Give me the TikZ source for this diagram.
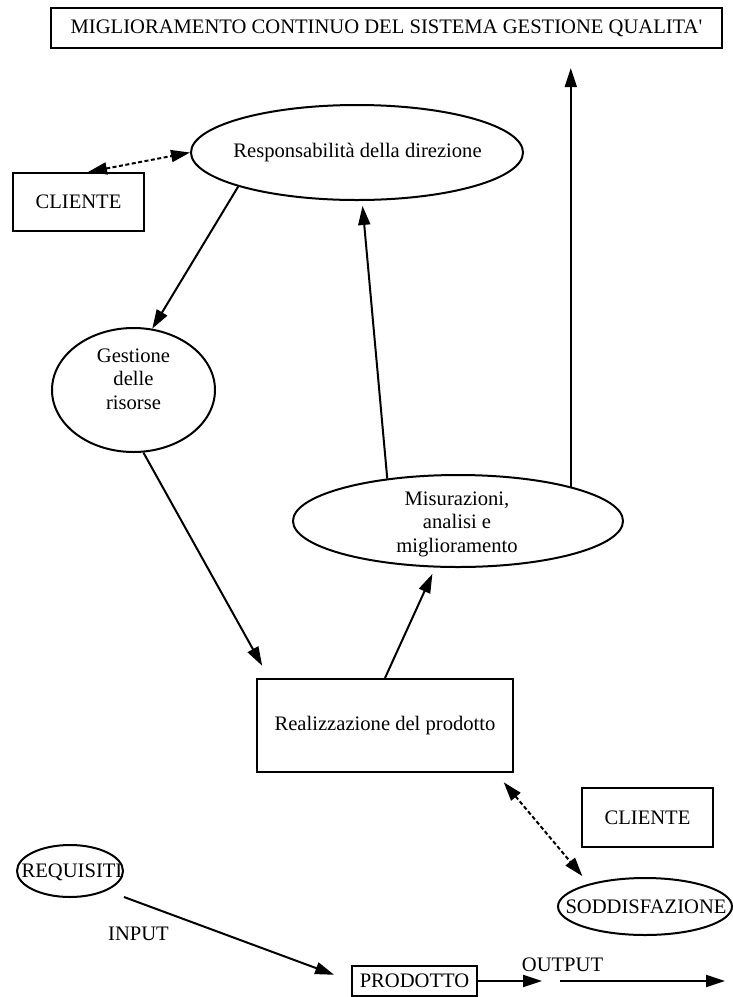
\documentclass[tikz,border=0pt]{standalone}
\usepackage{fontspec}
\setmainfont{Liberation Serif}[Ligatures=ResetAll]
\usetikzlibrary{arrows.meta,shapes.geometric,calc}
\begin{document}
\begin{tikzpicture}[x=1pt,y=-1pt,line width=2pt,
        every node/.style={font=\fontsize{20.6}{23.5}\selectfont,inner sep=0pt,align=center},
        boxnode/.style={draw,rectangle},
        ovalnode/.style={draw,ellipse},
        arr/.style={-{Triangle[length=19pt,width=12pt]}},
        dasharr/.style={{Triangle[length=19pt,width=12pt]}-{Triangle[length=19pt,width=12pt]},dash pattern=on 4pt off 2.5pt}]
        \fill[white] (0,0) rectangle (732,997);
        \useasboundingbox (0,0) rectangle (732,997);
        \node[boxnode,minimum width=671pt,minimum height=40pt] (top) at (386.5,28) {MIGLIORAMENTO CONTINUO DEL SISTEMA GESTIONE QUALITA\textquotesingle};
        \node[ovalnode,minimum width=332pt,minimum height=95pt] (resp) at (357,152.5) {};
        \node (respText) at (357.5,152.5) {Responsabilità della direzione};
        \node[boxnode,minimum width=131pt,minimum height=58pt] (cliA) at (78.5,202) {CLIENTE};
        \node[ovalnode,minimum width=163pt,minimum height=124pt] (ges) at (133.5,390) {};
        \node (gesText) at (133.5,379) {Gestione\\delle\\risorse};
        \node[ovalnode,minimum width=330pt,minimum height=92pt] (mis) at (458,521) {};
        \node (misText) at (457,524) {Misurazioni,\\analisi e\\miglioramento};
        \node[boxnode,minimum width=256pt,minimum height=93pt] (real) at (385,725.5) {Realizzazione del prodotto};
        \node[boxnode,minimum width=131pt,minimum height=59pt] (cliB) at (647.5,817.5) {CLIENTE};
        \node[ovalnode,minimum width=106pt,minimum height=52pt] (req) at (70,871) {};
        \node (reqText) at (72,872) {REQUISITI};
        \node[ovalnode,minimum width=174pt,minimum height=57pt] (sod) at (645,906.5) {};
        \node (sodText) at (646,907) {SODDISFAZIONE};
        \node[boxnode,minimum width=125pt,minimum height=30pt] (prod) at (414.5,981) {PRODOTTO};
        \node (input) at (138.5,933.5) {INPUT};
        \node (output) at (562.5,964.5) {OUTPUT};
        \coordinate (outA) at (542,981);
        \coordinate (outB) at (560,981);
        \coordinate (outC) at (725,981);
        \draw[dasharr] ($(cliA.north)+(9.5,0)$) -- (resp.west);
        \draw[arr] (resp.196.7) -- (ges.73.6);
        \draw[arr,shorten >=14pt] (ges.279.6) -- ($(real.north west)+(13,0)$);
        \draw[arr,shorten >=7pt] (real.north) -- (mis.244.2);
        \draw[arr,shorten >=5pt] (mis.149.7) -- (resp.276);
        \draw[arr,shorten >=19pt] (mis.17.7) -- (mis.17.7 |- top.south);
        \draw[dasharr,shorten <=12pt,shorten >=10pt] ($(real.south east)+(-18,0)$) -- (sod.158.9);
        \draw[arr,shorten >=18pt] ($(req.east)+(0,26)$) -- (prod.west);
        \draw[arr] (prod.east) -- (outA);
        \draw[arr] (outB) -- (outC);
\end{tikzpicture}
\end{document}
